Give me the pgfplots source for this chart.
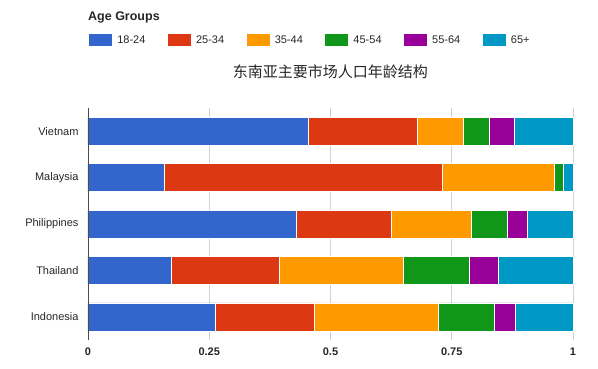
\documentclass[border=0pt]{standalone}
\usepackage{pgfplots}
\pgfplotsset{compat=1.18}
\usepackage{pgfplotstable}
\usepackage{fontspec}
\setmainfont{Liberation Sans}
\newfontfamily\cjk{Noto Sans CJK SC}
\definecolor{gA}{HTML}{3366CC}
\definecolor{gB}{HTML}{DC3912}
\definecolor{gC}{HTML}{FF9900}
\definecolor{gD}{HTML}{109618}
\definecolor{gE}{HTML}{990099}
\definecolor{gF}{HTML}{0099C6}
\pgfplotstableread{
y  a     b     c     d     e     f
0  0.262 0.205 0.256 0.114 0.045 0.118
1  0.172 0.223 0.255 0.136 0.061 0.153
2  0.429 0.196 0.166 0.073 0.041 0.095
3  0.157 0.573 0.231 0.020 0.000 0.019
4  0.454 0.226 0.093 0.054 0.051 0.122
}\datatable
\begin{document}
\begin{tikzpicture}
\useasboundingbox (-88pt,-28pt) rectangle (510pt,340pt);
\begin{axis}[
  name=ax,
  at={(0,0)}, anchor=south west,
  scale only axis, width=485pt, height=232pt,
  clip=false,
  xbar stacked, bar width=28pt,
  xmin=0, xmax=1, ymin=-0.5, ymax=4.5,
  axis lines=left, separate axis lines,
  x axis line style={draw=none},
  y axis line style={draw=none},
  xtick={0,0.25,0.5,0.75,1},
  xticklabels={0,0.25,0.5,0.75,1},
  xticklabel style={font=\bfseries\fontsize{11}{13}\selectfont, text=black!85, yshift=-4pt},
  ytick={0,1,2,3,4},
  yticklabels={Indonesia,Thailand,Philippines,Malaysia,Vietnam},
  yticklabel style={font=\fontsize{11}{13}\selectfont, text=black!85, xshift=-6pt},
  major tick length=0pt,
  xmajorgrids, grid style={black!18, line width=0.6pt},
  title={\cjk 东南亚主要市场人口年龄结构},
  title style={font=\fontsize{15}{18}\selectfont, text=black!85, at={(0.5,1)}, anchor=south, yshift=20pt},
  legend style={at={(0,1)}, anchor=west, yshift=68pt, draw=none, fill=none, inner sep=0pt,
    font=\fontsize{11}{13}\selectfont, text=black!85,
    legend columns=6,
    /tikz/every odd column/.append style={column sep=3pt},
    /tikz/every even column/.append style={column sep=20pt},
    nodes={inner sep=1.5pt}},
  legend image code/.code={\fill[#1] (0pt,-6.5pt) rectangle (24pt,6.5pt);},
  every axis plot/.append style={draw=white, line width=0.6pt},
]
\addplot[fill=gA] table[x=a,y=y] {\datatable};
\addplot[fill=gB] table[x=b,y=y] {\datatable};
\addplot[fill=gC] table[x=c,y=y] {\datatable};
\addplot[fill=gD] table[x=d,y=y] {\datatable};
\addplot[fill=gE] table[x=e,y=y] {\datatable};
\addplot[fill=gF] table[x=f,y=y] {\datatable};
\legend{18-24,25-34,35-44,45-54,55-64,65+}
\node[anchor=west, inner sep=0pt, font=\bfseries\fontsize{12.5}{15}\selectfont, text=black!85]
  at (rel axis cs:0,1) [yshift=91pt] {Age Groups};
\end{axis}
\draw[black!70, line width=0.8pt] (ax.south west) -- (ax.north west);
\end{tikzpicture}
\end{document}
